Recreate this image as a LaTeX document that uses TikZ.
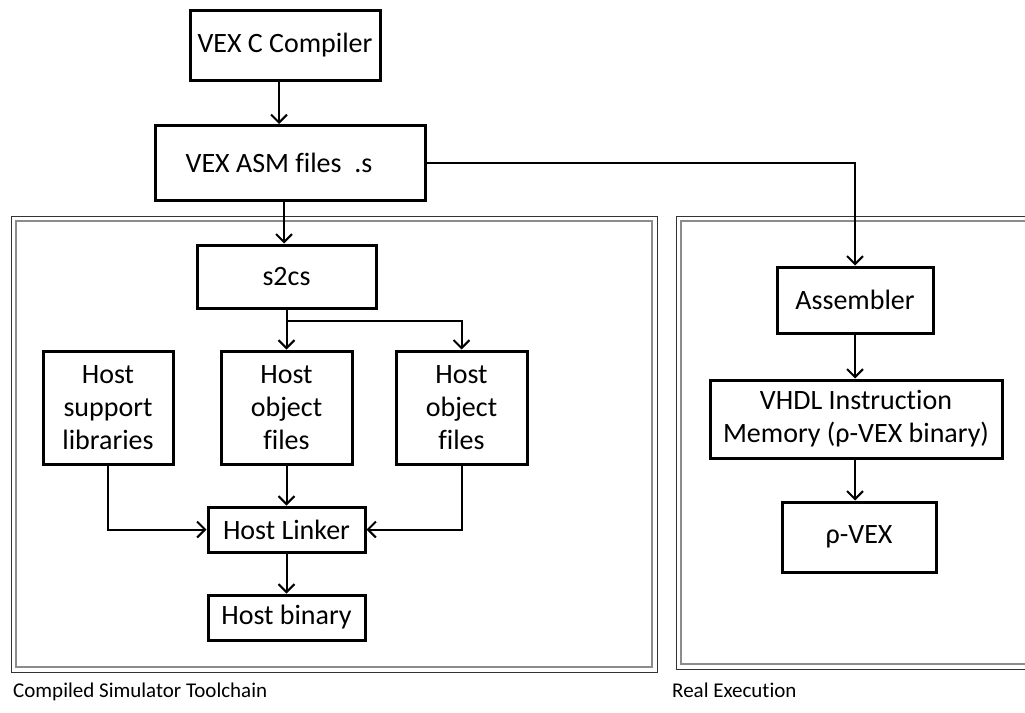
\documentclass[tikz,border=0pt]{standalone}
\usepackage{fontspec}
\setmainfont{Carlito}[Ligatures=NoCommon]
\usetikzlibrary{arrows.meta}
\begin{document}
\begin{tikzpicture}[x=1pt,y=-1pt,
  box/.style={draw=black, line width=3pt, rectangle, inner sep=0pt, align=center,
    font=\fontsize{28}{33}\selectfont},
  arr/.style={line width=2pt, -{Straight Barb[length=8pt,width=16pt,line width=2pt]}},
  caption/.style={anchor=base west, inner sep=0pt, font=\fontsize{21}{25}\selectfont},
  frameout/.style={draw=black!80, line width=1pt},
  framein/.style={draw=black!45, line width=2pt}]
\useasboundingbox (0,0) rectangle (1025,712);
\clip (0,0) rectangle (1025,712);
% frames
\draw[frameout] (11,216) rectangle (657,672);
\draw[framein] (16,221) rectangle (652,667);
\draw[frameout] (676,216) rectangle (1040,669);
\draw[framein] (681,221) rectangle (1040,664);
% nodes
\node[box, minimum width=190pt, minimum height=70pt] (cc) at (285,45) {VEX C Compiler};
\node[box, minimum width=270pt, minimum height=75pt] (asm) at (290,163) {VEX ASM files~~.s\hspace*{22pt}};
\node[box, minimum width=179pt, minimum height=63pt] (s2cs) at (286.5,276.5) {s2cs};
\node[box, minimum width=130pt, minimum height=113pt] (hsl) at (108,407.5) {Host\\support\\libraries};
\node[box, minimum width=131pt, minimum height=113pt] (hof1) at (286.5,407.5) {Host\\object\\files};
\node[box, minimum width=131pt, minimum height=113pt] (hof2) at (461.5,407.5) {Host\\object\\files};
\node[box, minimum width=157pt, minimum height=45pt] (hl) at (286.5,529.5) {Host Linker};
\node[box, minimum width=157pt, minimum height=45pt] (hb) at (286.5,617.5) {Host binary};
\node[box, minimum width=156pt, minimum height=66pt] (as) at (855,300) {Assembler};
\node[box, minimum width=292pt, minimum height=78pt] (vhdl) at (856,419) {VHDL Instruction\\Memory (ρ-VEX binary)};
\node[box, minimum width=154pt, minimum height=70pt] (rv) at (859,537) {ρ-VEX};
% captions
\node[caption] (c1) at (13,697) {Compiled Simulator Toolchain};
\node[caption] (c2) at (672,697) {Real Execution};
% connectors
\draw[arr] (cc.south -| 279,0) -- (asm.north -| 279,0);
\draw[arr] (asm.south -| 284,0) -- (s2cs.north -| 284,0);
\coordinate (br) at (855,163);
\draw[arr] (asm.east |- br) -- (br) -- (as.north -| br);
\draw[arr] (s2cs.south -| 286.5,0) -- (hof1.north);
\coordinate (sp) at (286.5,321);
\draw[arr] (sp) -- (sp -| hof2.north) -- (hof2.north);
\draw[arr] (hsl.south) |- (hl.west);
\draw[arr] (hof2.south) |- (hl.east);
\draw[arr] (hof1.south) -- (hl.north);
\draw[arr] (hl.south) -- (hb.north);
\draw[arr] (as.south) -- (vhdl.north -| as.south);
\draw[arr] (vhdl.south -| as.south) -- (rv.north -| as.south);
\end{tikzpicture}
\end{document}
